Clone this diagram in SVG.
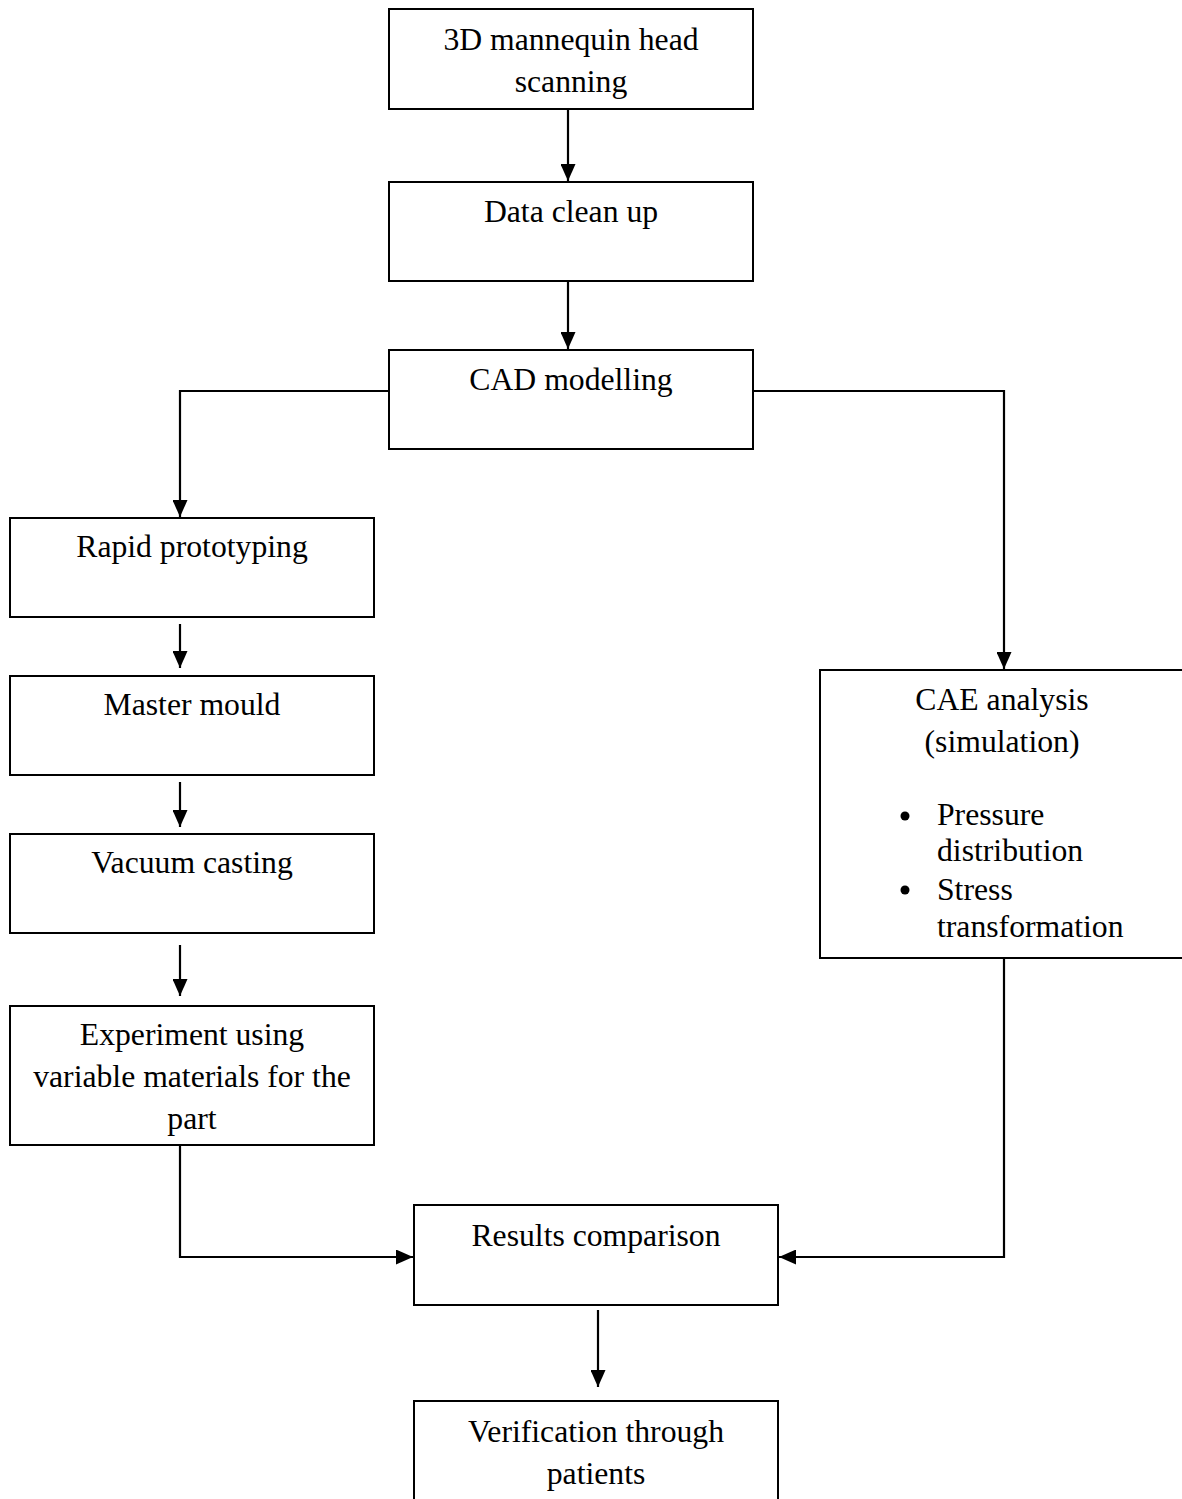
<svg xmlns="http://www.w3.org/2000/svg" width="1182" height="1499" viewBox="0 0 1182 1499">
<style>
.box{fill:#fff;stroke:#000;stroke-width:2}
.t{font-family:"Liberation Serif","Times New Roman",serif;font-size:31.7px;fill:#000;text-anchor:middle}
.l{font-family:"Liberation Serif","Times New Roman",serif;font-size:31.7px;fill:#000}
.c{fill:none;stroke:#000;stroke-width:2.2}
</style>
<defs>
<marker id="ah" markerWidth="17" markerHeight="15" refX="17" refY="7.5" orient="auto" markerUnits="userSpaceOnUse">
<path d="M0,0 L17,7.5 L0,15 Z" fill="#000"/>
</marker>
</defs>
<rect width="1182" height="1499" fill="#fff"/>
<g id="connectors">
<path class="c" d="M568,109 V181" marker-end="url(#ah)"/>
<path class="c" d="M568,277 V349" marker-end="url(#ah)"/>
<path class="c" d="M389,391 H180 V517" marker-end="url(#ah)"/>
<path class="c" d="M753,391 H1004 V669" marker-end="url(#ah)"/>
<path class="c" d="M180,624 V668" marker-end="url(#ah)"/>
<path class="c" d="M180,782 V827" marker-end="url(#ah)"/>
<path class="c" d="M180,945 V996" marker-end="url(#ah)"/>
<path class="c" d="M180,1145 V1257 H413" marker-end="url(#ah)"/>
<path class="c" d="M1004,958 V1257 H779" marker-end="url(#ah)"/>
<path class="c" d="M598,1310 V1387" marker-end="url(#ah)"/>
</g>
<g id="n1"><rect class="box" x="389" y="9" width="364" height="100"/><text class="t" x="571" y="50">3D mannequin head</text><text class="t" x="571" y="92">scanning</text></g>
<g id="n2"><rect class="box" x="389" y="182" width="364" height="99"/><text class="t" x="571" y="222">Data clean up</text></g>
<g id="n3"><rect class="box" x="389" y="350" width="364" height="99"/><text class="t" x="571" y="390">CAD modelling</text></g>
<g id="n4"><rect class="box" x="10" y="518" width="364" height="99"/><text class="t" x="192" y="557">Rapid prototyping</text></g>
<g id="n5"><rect class="box" x="10" y="676" width="364" height="99"/><text class="t" x="192" y="715">Master mould</text></g>
<g id="n6"><rect class="box" x="10" y="834" width="364" height="99"/><text class="t" x="192" y="873">Vacuum casting</text></g>
<g id="n7"><rect class="box" x="10" y="1006" width="364" height="139"/><text class="t" x="192" y="1045">Experiment using</text><text class="t" x="192" y="1087">variable materials for the</text><text class="t" x="192" y="1129">part</text></g>
<g id="n8"><rect class="box" x="820" y="670" width="364" height="288"/><text class="t" x="1002" y="710">CAE analysis</text><text class="t" x="1002" y="752">(simulation)</text>
<circle cx="905" cy="816" r="4.5"/><circle cx="905" cy="890" r="4.5"/>
<text class="l" x="937" y="825">Pressure</text><text class="l" x="937" y="861">distribution</text><text class="l" x="937" y="900">Stress</text><text class="l" x="937" y="937">transformation</text></g>
<g id="n9"><rect class="box" x="414" y="1205" width="364" height="100"/><text class="t" x="596" y="1246">Results comparison</text></g>
<g id="n10"><rect class="box" x="414" y="1401" width="364" height="110"/><text class="t" x="596" y="1442">Verification through</text><text class="t" x="596" y="1484">patients</text></g>
</svg>
